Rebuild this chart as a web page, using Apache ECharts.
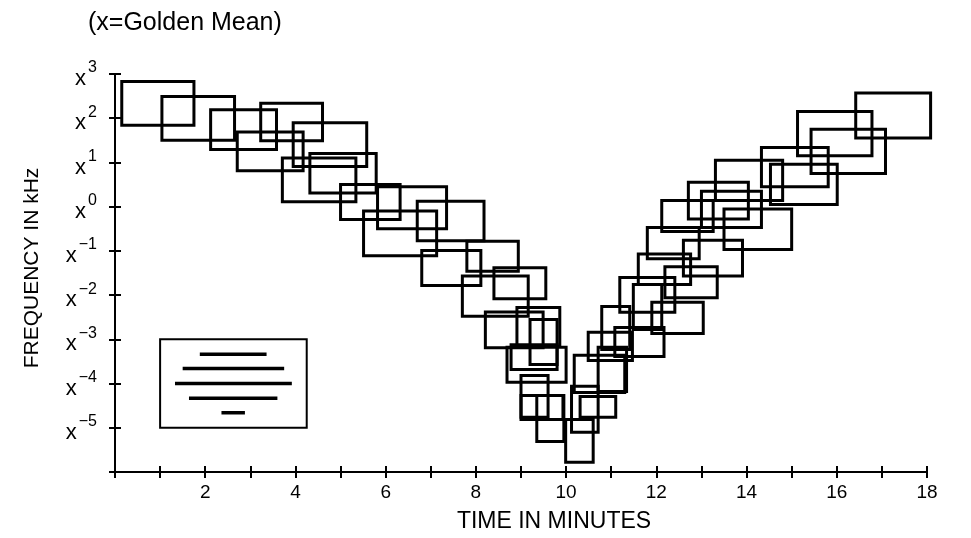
<!DOCTYPE html>
<html>
<head>
<meta charset="utf-8">
<script src="https://cdn.jsdelivr.net/npm/echarts@6/dist/echarts.min.js"></script>
<style>
html,body{margin:0;padding:0;background:#fff;}
#c{width:971px;height:538px;}
</style>
</head>
<body>
<div id="c"></div>
<script>
// Sound events: time span (minutes) and frequency span (exponent of x = golden mean)
const tStart  = [0.15,1.04,2.12,3.23,2.71,3.95,3.71,4.32,5.00,5.82,5.51,6.70,6.80,7.80,7.70,8.40,8.21,8.91,9.20,8.78,8.69,9.00,9.00,9.35,9.99,
                 10.12,10.18,10.31,10.49,10.71,10.79,11.08,11.19,11.49,11.90,11.60,12.19,11.80,12.60,12.12,12.71,13.00,13.50,13.31,14.33,14.53,15.13,15.43,16.42];
const tEnd    = [1.75,2.65,3.58,4.60,4.17,5.58,5.34,5.79,6.32,7.35,7.13,8.18,8.11,8.94,9.16,9.55,9.49,9.86,9.80,9.80,10.00,9.60,9.93,9.95,10.60,
                 10.71,11.30,11.10,11.47,11.34,11.41,12.17,12.41,12.12,13.04,12.76,13.35,12.95,13.91,13.26,14.04,14.33,15.00,14.80,15.81,16.01,16.78,17.08,18.08];
const expLow  = [1.84,1.50,1.29,1.49,0.81,0.91,0.11,0.31,-0.29,-0.50,-1.11,-0.77,-1.78,-1.46,-2.48,-2.08,-3.19,-3.16,-3.57,-3.68,-3.97,-4.76,-4.81,-5.31,-5.78,
                 -5.10,-4.20,-4.76,-3.48,-4.18,-3.23,-3.39,-2.39,-2.78,-2.87,-1.76,-2.06,-1.18,-1.57,-0.56,-0.28,-0.47,-0.97,0.14,0.45,0.05,1.15,0.75,1.55];
const expHigh = [2.83,2.49,2.19,2.34,1.69,1.90,1.10,1.20,0.50,0.45,-0.10,0.12,-0.99,-0.78,-1.57,-1.38,-2.38,-2.28,-2.55,-3.12,-3.18,-3.82,-4.27,-4.27,-4.81,
                 -4.06,-3.36,-4.29,-2.84,-3.18,-2.26,-2.73,-1.60,-1.76,-2.16,-1.07,-1.36,-0.47,-0.76,0.14,0.55,0.35,-0.05,1.05,1.34,0.96,2.15,1.75,2.57];

// Legend glyph (box and bars), in axis units
const legBox   = [1.0, 4.25, -5.0, -3.0];
const legY     = [-3.34, -3.66, -4.0, -4.33, -4.66];
const legStart = [1.88, 1.50, 1.33, 1.64, 2.36];
const legEnd   = [3.36, 3.75, 3.92, 3.60, 2.88];

// Axis ticks
const xMin = 0, xMax = 18, xStep = 1;
const yMin = -6, yMax = 3, yStep = 1;
const xLabelValues = [2,4,6,8,10,12,14,16,18];
const yLabelValues = [-5,-4,-3,-2,-1,0,1,2,3];

const FONT = '"Liberation Sans", Arial, sans-serif';

const rects = tStart.map((s,i)=>[s, tEnd[i], expLow[i], expHigh[i]]);
const legLines = legY.map((y,i)=>[legStart[i], legEnd[i], y]);

function rectItem(lw){
  return function(params, api){
    const p1 = api.coord([api.value(0), api.value(3)]);
    const p2 = api.coord([api.value(1), api.value(2)]);
    return {type:'rect', shape:{x:p1[0], y:p1[1], width:p2[0]-p1[0], height:p2[1]-p1[1]},
            style:{fill:null, stroke:'#000', lineWidth:lw}};
  };
}
function lineItem(params, api){
  const a = api.coord([api.value(0), api.value(2)]);
  const b = api.coord([api.value(1), api.value(2)]);
  return {type:'line', shape:{x1:a[0], y1:a[1], x2:b[0], y2:b[1]}, style:{stroke:'#000', lineWidth:3.5}};
}

const xBase = {type:'value', min:xMin, max:xMax, interval:xStep, splitLine:{show:false}};
const yBase = {type:'value', min:yMin, max:yMax, interval:yStep, splitLine:{show:false}};

const chart = echarts.init(document.getElementById('c'), null, {renderer:'canvas'});
chart.setOption({
  animation:false,
  backgroundColor:'#fff',
  grid:{left:115, right:44, top:74, bottom:66},
  xAxis:[
    Object.assign({}, xBase, {
      position:'bottom',
      axisLine:{show:true, onZero:false, lineStyle:{color:'#000', width:2}},
      axisTick:{show:true, length:6, lineStyle:{color:'#000', width:2}},
      axisLabel:{show:true, margin:11, color:'#000', fontFamily:FONT, fontSize:19,
        formatter:v=> xLabelValues.indexOf(v)>=0 ? String(v) : ''}
    }),
    Object.assign({}, xBase, {
      position:'bottom',
      axisLine:{show:false, onZero:false},
      axisTick:{show:true, inside:true, length:6, lineStyle:{color:'#000', width:2}},
      axisLabel:{show:false}
    })
  ],
  yAxis:[
    Object.assign({}, yBase, {
      position:'left',
      axisLine:{show:true, onZero:false, lineStyle:{color:'#000', width:2}},
      axisTick:{show:true, length:6, lineStyle:{color:'#000', width:2}},
      axisLabel:{show:true, margin:18, color:'#000', fontFamily:FONT,
        formatter:v=> yLabelValues.indexOf(v)>=0 ? '{x|x}{s|' + String(v).replace('-','\u2212') + '}' : '',
        rich:{
          x:{fontSize:22, fontFamily:FONT, color:'#000', lineHeight:22, padding:[10,0,0,0]},
          s:{fontSize:16, fontFamily:FONT, color:'#000', lineHeight:16, padding:[0,0,12,2]}
        }}
    }),
    Object.assign({}, yBase, {
      position:'left',
      axisLine:{show:false, onZero:false},
      axisTick:{show:true, inside:true, length:6, lineStyle:{color:'#000', width:2}},
      axisLabel:{show:false}
    })
  ],
  graphic:[
    {type:'text', left:88, top:11, style:{text:'(x=Golden Mean)', font:'25px ' + FONT, fill:'#000'}},
    {type:'text', x:554, y:522, style:{text:'TIME IN MINUTES', font:'23px ' + FONT, fill:'#000', textAlign:'center', textVerticalAlign:'middle'}},
    {type:'text', x:32, y:268, rotation:Math.PI/2, style:{text:'FREQUENCY IN kHz', font:'21px ' + FONT, fill:'#000', textAlign:'center', textVerticalAlign:'middle'}}
  ],
  series:[
    {type:'custom', xAxisIndex:0, yAxisIndex:0, renderItem:rectItem(3), data:rects, silent:true},
    {type:'custom', xAxisIndex:0, yAxisIndex:0, renderItem:rectItem(2), data:[legBox], silent:true},
    {type:'custom', xAxisIndex:0, yAxisIndex:0, renderItem:lineItem, data:legLines, silent:true}
  ]
});
</script>
</body>
</html>
